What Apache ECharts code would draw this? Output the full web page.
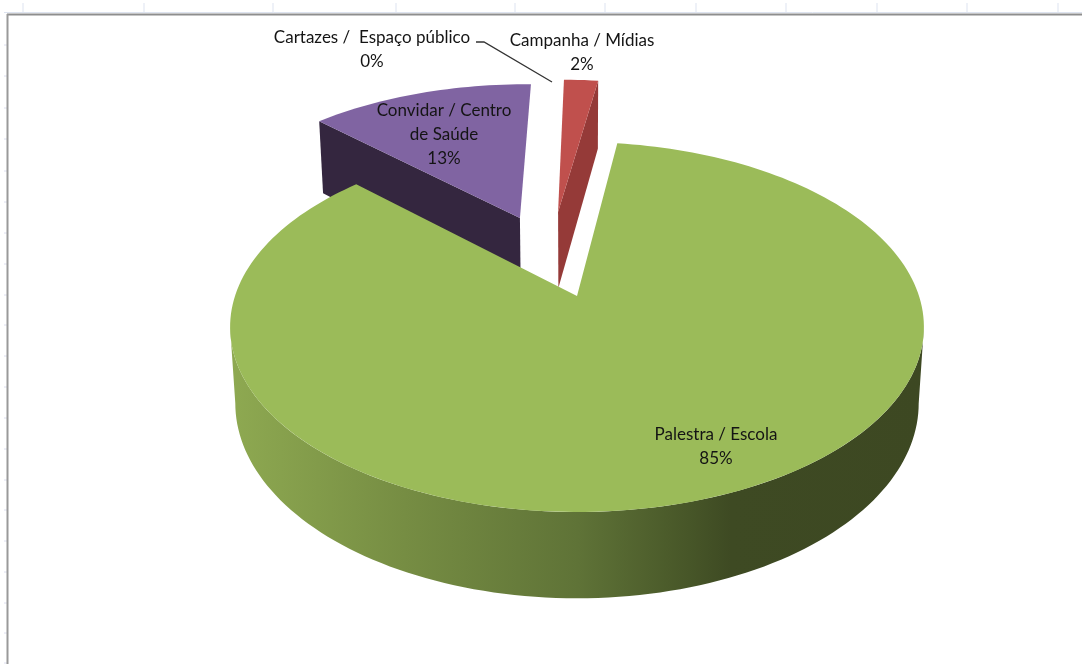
<!DOCTYPE html>
<html>
<head>
<meta charset="utf-8">
<title>Palestra / Escola</title>
<script src="https://cdn.jsdelivr.net/npm/echarts@6/dist/echarts.min.js"></script>
<style>
  html, body { margin: 0; padding: 0; background: #fff; }
  #chart { width: 1082px; height: 664px; }
</style>
</head>
<body>
<div id="chart"></div>
<script>
// Slice data, in clockwise order from the top of the pie.
const sliceNames = ['Campanha / Mídias', 'Palestra / Escola', 'Convidar / Centro\nde Saúde', 'Cartazes /  Espaço público'];
const sliceValues = [2, 85, 13, 0];
const sliceColors = ['#c0504d', '#9bbb59', '#8064a2', '#f79646'];
const cutFaceColors = ['#953a38', null, '#34263f', null];

// Worksheet grid ticks showing around the chart frame.
const columnTicks = [23, 144, 273, 396, 515, 605, 696, 786, 877, 967, 1058];
const rowTicks = [45, 76, 108, 139, 171, 202, 233, 264, 295, 325, 356, 387, 418, 449, 480, 510, 541, 572, 603, 633, 663];

// Pie layout: a unit disc seen in perspective.
const startAngle = 0.7;
const pie = { x: 577, y: 296, rx: 342, ry: 179.8, tilt: 0.1676, floorScale: 0.985 };
const explodeU = [-0.06, 0, -0.18, 0];
const explodeV = [-0.507, 0, -0.468, 0];
const sliceDepth = [81, 74.5, 83, 0];
const cutFaceEdge = ['end', null, 'start', null];
const labelCenters = [[582, 53], [716, 447], [444, 135], [372, 50]];
const leaderLine = [[476, 42], [484, 42], [552, 82]];
const silhouette = Math.asin(Math.sqrt(1 - pie.tilt * pie.tilt));

const rad = d => d * Math.PI / 180;
const total = sliceValues.reduce((a, b) => a + b, 0);

// Project a disc point onto the screen; depth > 0 is the underside of the slice.
function project(u, v, depth) {
  const w = 1 - pie.tilt * v;
  const k = depth ? pie.floorScale : 1;
  return [pie.x + k * pie.rx * u / w, pie.y + (k * pie.ry * v + (depth || 0)) / w];
}
function rimPoint(i, deg, depth) {
  return project(explodeU[i] + Math.sin(rad(deg)), explodeV[i] - Math.cos(rad(deg)), depth);
}
function arcPoints(i, from, to, depth) {
  const pts = [];
  const n = Math.max(2, Math.ceil(Math.abs(to - from) / 1.5));
  for (let k = 0; k <= n; k++) pts.push(rimPoint(i, from + (to - from) * k / n, depth));
  return pts;
}

let running = startAngle;
const sliceStart = sliceValues.map(v => { const s = running; running += v / total * 360; return s; });

const frontGradient = new echarts.graphic.LinearGradient(231, 0, 925, 0, [
  { offset: 0, color: '#8ea951' },
  { offset: 0.25, color: '#768d43' },
  { offset: 0.5, color: '#5f7337' },
  { offset: 0.66, color: '#475628' },
  { offset: 0.72, color: '#3e4a23' },
  { offset: 1, color: '#3d4822' }
], true);

// Draws one slice: its cut face, its front rim, its top face, label and leader line.
function renderSlice(params, api) {
  const i = api.value(0);
  const value = api.value(1);
  const from = sliceStart[i];
  const to = from + value / total * 360;
  const layer = i === 1 ? 20 : 10;
  const children = [];

  if (value > 0) {
    const apexTop = project(explodeU[i], explodeV[i], 0);
    const apexLow = project(explodeU[i], explodeV[i], sliceDepth[i]);

    if (cutFaceEdge[i]) {
      const edge = cutFaceEdge[i] === 'end' ? to : from;
      children.push({
        type: 'polygon', z2: layer,
        shape: { points: [apexTop, rimPoint(i, edge, 0), rimPoint(i, edge, sliceDepth[i]), apexLow] },
        style: { fill: cutFaceColors[i] }
      });
    }

    // The rim shows only between the disc's left and right silhouette points.
    const rimFrom = Math.max(from, 180 - silhouette * 180 / Math.PI);
    const rimTo = Math.min(to, 180 + silhouette * 180 / Math.PI);
    if (rimTo > rimFrom) {
      const upper = arcPoints(i, rimFrom, rimTo, 0);
      const lower = arcPoints(i, rimTo, rimFrom, sliceDepth[i]);
      children.push({
        type: 'polygon', z2: layer + 1,
        shape: { points: upper.concat(lower) },
        style: { fill: frontGradient }
      });
    }

    children.push({
      type: 'polygon', z2: layer + 2,
      shape: { points: [apexTop].concat(arcPoints(i, from, to, 0)) },
      style: { fill: sliceColors[i] }
    });
  } else {
    children.push({
      type: 'polyline', z2: 50,
      shape: { points: leaderLine },
      style: { fill: null, stroke: '#333333', lineWidth: 1.3 }
    });
  }

  children.push({
    type: 'text', z2: 60,
    style: {
      text: sliceNames[i] + '\n' + value + '%',
      x: labelCenters[i][0], y: labelCenters[i][1],
      align: 'center', verticalAlign: 'middle',
      fontFamily: 'Lato', fontSize: 17, lineHeight: 24,
      fill: '#141414'
    }
  });
  return { type: 'group', children };
}

// Frame and grid ticks of the surrounding sheet.
const frame = [];
columnTicks.forEach(x => frame.push({
  type: 'line', shape: { x1: x, y1: 3, x2: x, y2: 13 }, style: { stroke: '#dde3f0', lineWidth: 1 }
}));
rowTicks.forEach(y => frame.push({
  type: 'line', shape: { x1: 4, y1: y, x2: 8, y2: y }, style: { stroke: '#dcdeee', lineWidth: 1 }
}));
frame.push(
  { type: 'line', shape: { x1: 4, y1: 12.5, x2: 1082, y2: 12.5 }, style: { stroke: '#dde3ef', lineWidth: 1 } },
  { type: 'line', shape: { x1: 7, y1: 14.5, x2: 1082, y2: 14.5 }, style: { stroke: '#8e8e8e', lineWidth: 2 } },
  { type: 'line', shape: { x1: 7.5, y1: 14, x2: 7.5, y2: 664 }, style: { stroke: '#9a9a9a', lineWidth: 2 } }
);

const chart = echarts.init(document.getElementById('chart'), null, { renderer: 'canvas' });
chart.setOption({
  animation: false,
  backgroundColor: '#ffffff',
  graphic: { elements: frame },
  series: [{
    type: 'custom',
    coordinateSystem: 'none',
    renderItem: renderSlice,
    silent: true,
    data: sliceValues.map((v, i) => [i, v])
  }]
});
</script>
</body>
</html>
